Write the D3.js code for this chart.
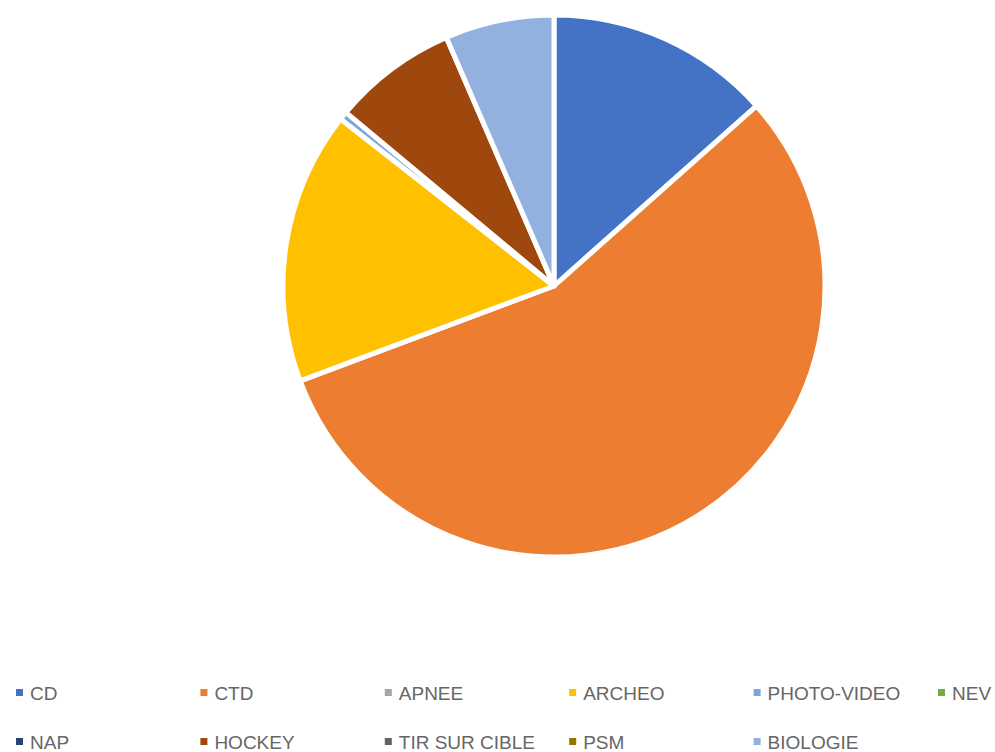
<!DOCTYPE html>
<html>
<head>
<meta charset="utf-8">
<script src="https://cdn.jsdelivr.net/npm/d3@7"></script>
<style>
  body { margin: 0; background: #fff; }
  svg text { font-family: "Liberation Sans", "DejaVu Sans", sans-serif; }
</style>
</head>
<body>
<div id="chart"></div>
<script>
const categories = ["CD", "CTD", "APNEE", "ARCHEO", "PHOTO-VIDEO", "NEV",
  "NAP", "HOCKEY", "TIR SUR CIBLE", "PSM", "BIOLOGIE"];
const values = [19, 79, 0, 23, 0.7, 0, 0, 10.5, 0, 0, 9.2];
const colors = ["#4472C4", "#ED7D31", "#A5A5A5", "#FFC000", "#7FA6D8", "#70AD47",
  "#264478", "#9E480E", "#636363", "#997300", "#92B1DF"];

const width = 995, height = 752;
const cx = 554, cy = 286, radius = 271;

const svg = d3.select("#chart")
  .append("svg")
  .attr("width", width)
  .attr("height", height);

const data = categories.map((c, i) => ({ name: c, value: values[i], color: colors[i] }));

const pie = d3.pie()
  .value(d => d.value)
  .sort(null);

const arc = d3.arc()
  .innerRadius(0)
  .outerRadius(radius);

svg.append("g")
  .attr("transform", `translate(${cx},${cy})`)
  .selectAll("path")
  .data(pie(data).filter(d => d.data.value > 0))
  .enter()
  .append("path")
  .attr("d", arc)
  .attr("fill", d => d.data.color)
  .attr("stroke", "#fff")
  .attr("stroke-width", 5)
  .attr("stroke-linejoin", "round");

// legend, 6 columns, 2 rows
const colW = 184.4, x0 = 16, rowY = [693, 742];
const legend = svg.append("g");

data.forEach((d, i) => {
  const col = i % 6, row = Math.floor(i / 6);
  const g = legend.append("g")
    .attr("transform", `translate(${x0 + col * colW},${rowY[row]})`);
  g.append("rect")
    .attr("x", 0)
    .attr("y", -4)
    .attr("width", 7)
    .attr("height", 7)
    .attr("fill", d.color);
  g.append("text")
    .attr("x", 14)
    .attr("y", 0)
    .attr("dy", "0.35em")
    .attr("fill", "#666")
    .attr("font-size", 19)
    .text(d.name);
});
</script>
</body>
</html>
